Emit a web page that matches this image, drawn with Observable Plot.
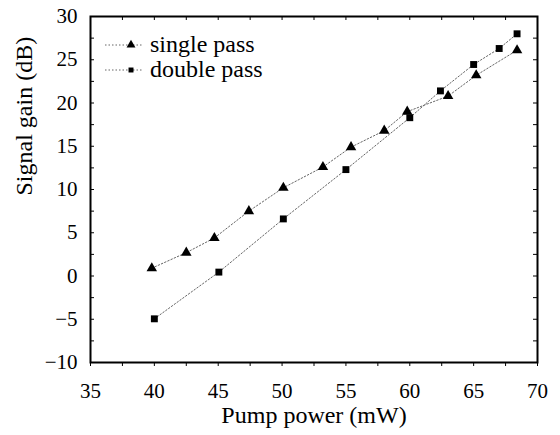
<!DOCTYPE html>
<html>
<head>
<meta charset="utf-8">
<script src="https://cdn.jsdelivr.net/npm/d3@7"></script>
<script src="https://cdn.jsdelivr.net/npm/@observablehq/plot@0.6"></script>
<style>
  html, body { margin: 0; padding: 0; background: #fff; }
</style>
</head>
<body>
<div id="chart"></div>
<script>
// ---- data ----
const singleX = [39.8, 42.5, 44.7, 47.4, 50.1, 53.2, 55.4, 58.0, 59.8, 63.0, 65.2, 68.4];
const singleY = [0.9, 2.7, 4.4, 7.5, 10.2, 12.6, 14.9, 16.8, 19.0, 20.8, 23.2, 26.1];
const doubleX = [40.0, 45.05, 50.1, 55.0, 60.0, 62.4, 65.0, 67.0, 68.4];
const doubleY = [-4.95, 0.45, 6.6, 12.3, 18.3, 21.4, 24.45, 26.3, 28.0];
const seriesNames = ["single pass", "double pass"];
const xMajor = [35, 40, 45, 50, 55, 60, 65, 70];
const xMinor = [37.5, 42.5, 47.5, 52.5, 57.5, 62.5, 67.5];
const yMajor = [-10, -5, 0, 5, 10, 15, 20, 25, 30];
const yMinor = [-7.5, -2.5, 2.5, 7.5, 12.5, 17.5, 22.5, 27.5];
const xTitle = "Pump power (mW)";
const yTitle = "Signal gain (dB)";

const single = singleX.map((x, i) => ({x, y: singleY[i]}));
const dbl = doubleX.map((x, i) => ({x, y: doubleY[i]}));
const xAll = xMajor.concat(xMinor);
const yAll = yMajor.concat(yMinor);

const W = 560, H = 435, mL = 90, mR = 23, mT = 16, mB = 73;
const FW = W - mL - mR, FH = H - mT - mB;

const fmt = d => d < 0 ? "\u2212" + (-d) : String(d);
const lineStyle = {stroke: "#666", strokeWidth: 1, strokeDasharray: "1.5,2"};

const legendSymbols = [d3.symbolTriangle, d3.symbolSquare];
const legendSizes = [3.3, 2.8];

function legend(index, scales, values, dimensions) {
  const L = dimensions.marginLeft, T = dimensions.marginTop;
  const g = d3.create("svg:g");
  seriesNames.forEach((name, i) => {
    const cy = T + 29 + i * 25;
    g.append("line")
      .attr("x1", L + 15).attr("x2", L + 53)
      .attr("y1", cy).attr("y2", cy)
      .attr("stroke", lineStyle.stroke)
      .attr("stroke-width", lineStyle.strokeWidth)
      .attr("stroke-dasharray", lineStyle.strokeDasharray);
    const r = legendSizes[i];
    g.append("path")
      .attr("d", d3.symbol(legendSymbols[i], r * r * Math.PI)())
      .attr("transform", `translate(${L + 41},${cy})`)
      .attr("fill", "black");
    g.append("text")
      .attr("x", L + 60).attr("y", cy + 7)
      .attr("text-anchor", "start")
      .attr("font-size", 24)
      .attr("fill", "black")
      .text(name);
  });
  return g.node();
}

const chart = Plot.plot({
  width: W,
  height: H,
  marginLeft: mL,
  marginRight: mR,
  marginTop: mT,
  marginBottom: mB,
  x: {domain: [35, 70]},
  y: {domain: [-10, 30]},
  style: {fontFamily: "'Liberation Serif', 'Times New Roman', serif", fontSize: "21px", background: "#fff", color: "#000"},
  marks: [
    // tick labels
    Plot.axisX({ticks: xMajor, tickSize: 0, tickPadding: 21, tickFormat: fmt, label: null, fontSize: 21}),
    Plot.axisY({ticks: yMajor, tickSize: 0, tickPadding: 13, tickFormat: fmt, label: null, fontSize: 21}),
    // tick marks: bottom outward, other sides inward
    Plot.ruleX(xAll, {x: d => d, insetTop: FH, insetBottom: -4, stroke: "black", strokeWidth: 1}),
    Plot.ruleX(xAll, {x: d => d, insetBottom: FH - 4, stroke: "black", strokeWidth: 1}),
    Plot.ruleY(yAll, {y: d => d, insetRight: FW - 4, stroke: "black", strokeWidth: 1}),
    Plot.ruleY(yAll, {y: d => d, insetLeft: FW - 4, stroke: "black", strokeWidth: 1}),
    Plot.frame({stroke: "black", strokeWidth: 2}),
    // series
    Plot.line(single, {x: "x", y: "y", ...lineStyle}),
    Plot.line(dbl, {x: "x", y: "y", ...lineStyle}),
    Plot.dot(single, {x: "x", y: "y", symbol: "triangle", r: 3.9, fill: "black", stroke: "none"}),
    Plot.dot(dbl, {x: "x", y: "y", symbol: "square", r: 3.9, fill: "black", stroke: "none"}),
    // axis titles
    Plot.text([xTitle], {text: d => d, frameAnchor: "bottom", dy: 53, lineAnchor: "middle", fontSize: 24}),
    Plot.text([yTitle], {text: d => d, frameAnchor: "left", rotate: -90, dx: -66, dy: 6, lineAnchor: "middle", fontSize: 24}),
    legend
  ]
});
document.getElementById("chart").appendChild(chart);
</script>
</body>
</html>
